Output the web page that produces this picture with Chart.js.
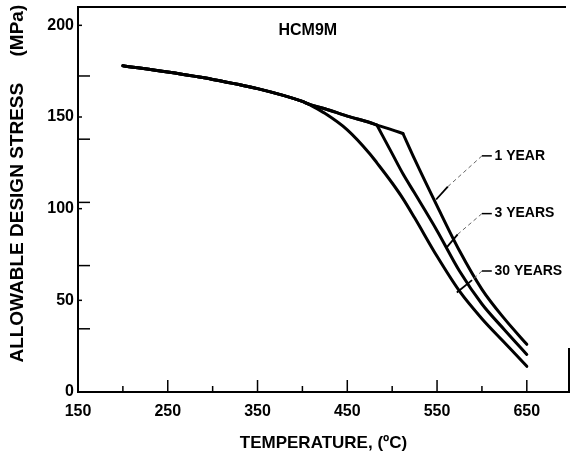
<!DOCTYPE html>
<html>
<head>
<meta charset="utf-8">
<script src="https://cdn.jsdelivr.net/npm/chart.js@4"></script>
<style>
  html, body { margin: 0; padding: 0; background: #fff; }
  #wrap { width: 571px; height: 457px; }
</style>
</head>
<body>
<div id="wrap"><canvas id="stressChart"></canvas></div>
<script>
var temps = [200, 250, 300, 350, 400, 407, 425, 450, 475, 483, 500, 512, 525, 550, 575, 600, 625, 650];
// allowable design stress (MPa)
var stress1y  = [178, 174.5, 170.5, 165.5, 158.5, 157, 154.5, 150.5, 147, 145.6, 143, 141, 127, 101.5, 77, 56, 40, 26];
var stress3y  = [178, 174.5, 170.5, 165.5, 158.5, 157, 154.5, 150.5, 147, 145.6, 130, 119, 108.5, 88, 66, 48, 34, 20.5];
var stress30y = [178, 174.5, 170.5, 165.5, 158.5, 157, 152, 143, 130, 125, 114, 105.5, 95, 74, 55, 40, 27, 14];
var seriesNames = ['1 YEAR', '3 YEARS', '30 YEARS'];
var kinkTemps = [512, 483, 407];   // where each curve leaves the upper one

var xLabels = [150, 250, 350, 450, 550, 650];
var xMinor = [200, 300, 400, 500, 600];
var yLabels = [0, 50, 100, 150, 200];
var ksiTicks = [5, 10, 15, 20, 25];   // inner marks on stress axis, in ksi

// split a curve at its kink so the bend stays sharp
function part(vals, kink, upper) {
    var out = [];
    temps.forEach(function (t, i) {
        if (upper ? t <= kink : t >= kink) out.push({ x: t, y: vals[i] });
    });
    return out;
}

var FONT = '"Liberation Sans", Arial, sans-serif';

// frame top, labels, leader lines and inward tick marks
var markPlugin = {
    id: 'marks',
    afterDraw: function (chart) {
        var ctx = chart.ctx, xs = chart.scales.x, ys = chart.scales.y, a = chart.chartArea;
        function X(v) { return xs.getPixelForValue(v); }
        function Y(v) { return ys.getPixelForValue(v); }
        function seg(x1, y1, x2, y2) {
            ctx.beginPath(); ctx.moveTo(x1, y1); ctx.lineTo(x2, y2); ctx.stroke();
        }
        ctx.save();
        ctx.strokeStyle = '#000';
        ctx.lineWidth = 2;
        seg(a.left - 1, a.top, a.right - 3, a.top);
        seg(a.right, a.bottom, a.right, Y(24));
        ctx.lineWidth = 1.5;
        xLabels.forEach(function (v) {
            if (v > 150) seg(X(v), a.bottom, X(v), a.bottom - 12);
        });
        xMinor.forEach(function (v) { seg(X(v), a.bottom, X(v), a.bottom - 6); });
        yLabels.forEach(function (v) { if (v > 0) seg(a.left, Y(v), a.left + 4, Y(v)); });
        ksiTicks.forEach(function (k) { seg(a.left, Y(k * 6.895), a.left + 12, Y(k * 6.895)); });

        // title inside plot
        ctx.fillStyle = '#000';
        ctx.font = 'bold 16px ' + FONT;
        ctx.textAlign = 'center';
        ctx.textBaseline = 'middle';
        ctx.fillText('HCM9M', X(406), Y(197));

        // curve labels with leaders
        var labelY = [128.8, 97.3, 66];
        var dashEnd = [[562, 112], [573, 86], [589, 61]];
        var solidEnd = [[549, 105], [561, 79], [572, 54.3]];
        ctx.font = 'bold 14px ' + FONT;
        ctx.textAlign = 'left';
        for (var i = 0; i < seriesNames.length; i++) {
            ctx.lineWidth = 1.5;
            ctx.setLineDash([]);
            seg(X(600), Y(labelY[i]), X(611), Y(labelY[i]));
            ctx.fillText(seriesNames[i], X(614), Y(labelY[i]));
            ctx.lineWidth = 1;
            ctx.strokeStyle = '#666';
            ctx.setLineDash([4, 3]);
            seg(X(600), Y(labelY[i]), X(dashEnd[i][0]), Y(dashEnd[i][1]));
            ctx.setLineDash([]);
            ctx.strokeStyle = '#000';
            ctx.lineWidth = 1.8;
            seg(X(dashEnd[i][0]), Y(dashEnd[i][1]), X(solidEnd[i][0]), Y(solidEnd[i][1]));
        }
        ctx.restore();
    }
};

var allSeries = [stress1y, stress3y, stress30y];
var datasets = [];
allSeries.forEach(function (vals, i) {
    datasets.push({ label: seriesNames[i], data: part(vals, kinkTemps[i], true) });
    datasets.push({ label: seriesNames[i], data: part(vals, kinkTemps[i], false) });
});

var ctx1 = document.getElementById('stressChart').getContext('2d');
var stressChart = new Chart(ctx1, {
    type: 'line',
    data: { datasets: datasets },
    options: {
        responsive: true,
        maintainAspectRatio: false,
        animation: false,
        layout: { padding: { top: 7, right: 2, left: 0, bottom: 0 } },
        elements: {
            line: { borderColor: '#000', borderWidth: 3, fill: false,
                    cubicInterpolationMode: 'monotone',
                    borderJoinStyle: 'round', borderCapStyle: 'round' },
            point: { radius: 0 }
        },
        plugins: {
            legend: { display: false },
            tooltip: { enabled: false }
        },
        scales: {
            x: {
                type: 'linear',
                position: 'bottom',
                min: 150,
                max: 697,
                afterBuildTicks: function (s) {
                    s.ticks = xLabels.map(function (v) { return { value: v }; });
                },
                afterFit: function (s) { s.height = 65; s.paddingLeft = 0; s.paddingRight = 0; },
                grid: { display: false, drawTicks: false },
                border: { display: true, color: '#000', width: 2 },
                ticks: { autoSkip: false, maxRotation: 0, color: '#000', padding: 10,
                         font: { family: FONT, size: 16, weight: 'bold' } },
                title: { display: true, text: 'TEMPERATURE, (\u00baC)', color: '#000',
                         font: { family: FONT, size: 17, weight: 'bold' },
                         padding: { top: 0, bottom: 3 } }
            },
            y: {
                min: 0,
                max: 210,
                afterBuildTicks: function (s) {
                    s.ticks = yLabels.map(function (v) { return { value: v }; });
                },
                afterFit: function (s) { s.width = 78; s.paddingTop = 0; s.paddingBottom = 0; },
                grid: { display: false, drawTicks: false },
                border: { display: true, color: '#000', width: 2 },
                ticks: { autoSkip: false, color: '#000', padding: 4,
                         font: { family: FONT, size: 16, weight: 'bold' } },
                title: { display: true,
                         text: '\u00a0\u00a0\u00a0\u00a0\u00a0\u00a0ALLOWABLE DESIGN STRESS\u00a0\u00a0\u00a0\u00a0\u00a0(MPa)',
                         color: '#000',
                         font: { family: FONT, size: 19, weight: 'bold' },
                         padding: { top: 6, bottom: 0 } }
            }
        }
    },
    plugins: [markPlugin]
});
</script>
</body>
</html>
